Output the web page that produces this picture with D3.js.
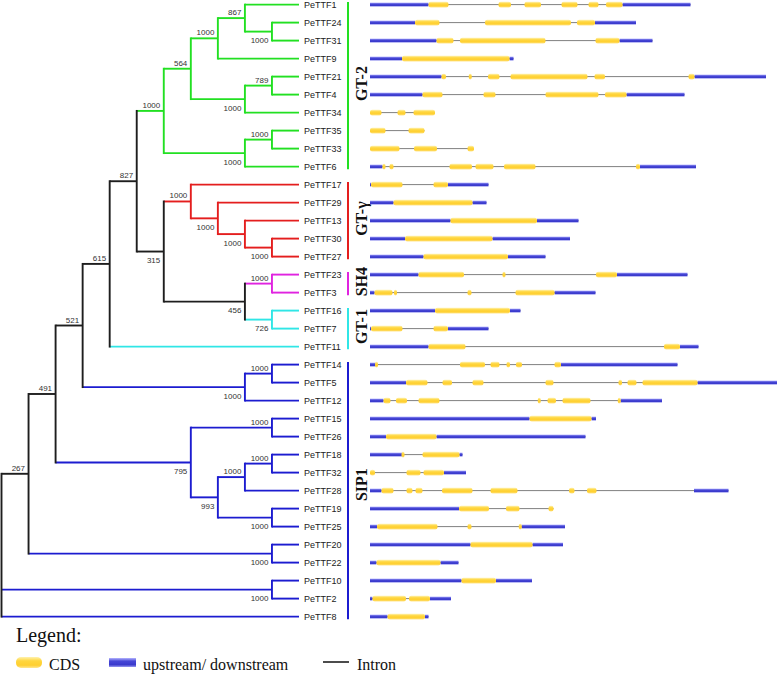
<!DOCTYPE html>
<html><head><meta charset="utf-8">
<script src="https://cdn.jsdelivr.net/npm/d3@7"></script>
<style>body{margin:0;background:#fff}svg{display:block}</style>
</head><body>
<svg id="chart" width="778" height="674"></svg>
<script>
// ---------------- DATA ----------------
// Tree topology with bootstrap values (Newick pieces)
const cladeGT2 = "((((PeTTF1,(PeTTF24,PeTTF31)1000)867,PeTTF9)1000,((PeTTF21,PeTTF4)789,PeTTF34)1000)564,((PeTTF35,PeTTF33)1000,PeTTF6)1000)1000";
const cladeGTg = "(PeTTF17,(PeTTF29,(PeTTF13,(PeTTF30,PeTTF27)1000)1000)1000)1000";
const clade456 = "((PeTTF23,PeTTF3)1000,(PeTTF16,PeTTF7)726)456";
const cladeSIPa = "((PeTTF14,PeTTF5)1000,PeTTF12)1000";
const cladeSIPb = "((PeTTF15,PeTTF26)1000,(((PeTTF18,PeTTF32)1000,PeTTF28)1000,(PeTTF19,PeTTF25)1000)993)795";
const newick = "((((((" + cladeGT2 + ",(" + cladeGTg + "," + clade456 + ")315)827,PeTTF11)615," +
  cladeSIPa + ")521," + cladeSIPb + ")491,(PeTTF20,PeTTF22)1000)267,(PeTTF10,PeTTF2)1000,PeTTF8);";

const groupNames = ["GT-2", "GT-γ", "SH4", "GT-1", "SIP1"];
const groupMembers = [
  ["PeTTF1","PeTTF24","PeTTF31","PeTTF9","PeTTF21","PeTTF4","PeTTF34","PeTTF35","PeTTF33","PeTTF6"],
  ["PeTTF17","PeTTF29","PeTTF13","PeTTF30","PeTTF27"],
  ["PeTTF23","PeTTF3"],
  ["PeTTF16","PeTTF7","PeTTF11"],
  ["PeTTF14","PeTTF5","PeTTF12","PeTTF15","PeTTF26","PeTTF18","PeTTF32","PeTTF28","PeTTF19","PeTTF25","PeTTF20","PeTTF22","PeTTF10","PeTTF2","PeTTF8"]
];
const groupColors = ["#22e022", "#e41e1e", "#e024e0", "#30e6e6", "#1c1cd0"];

// Gene structures (bp from gene start)
const geneUTR = {
  PeTTF1: [[0,1170],[5050,6410]], PeTTF24: [[0,900],[4500,5320]], PeTTF31: [[0,1330],[4990,5650]],
  PeTTF9: [[0,640],[2790,2870]], PeTTF21: [[0,1430],[6490,7920]], PeTTF4: [[0,1050],[5130,6290]],
  PeTTF34: [], PeTTF35: [], PeTTF33: [], PeTTF6: [[0,250],[5400,6520]],
  PeTTF17: [[0,20],[1560,2370]], PeTTF29: [[0,470],[2050,2330]], PeTTF13: [[0,1610],[3340,4170]],
  PeTTF30: [[0,700],[2450,4000]], PeTTF27: [[0,1070],[2760,3510]], PeTTF23: [[0,970],[4940,6350]],
  PeTTF3: [[0,90],[3690,4510]], PeTTF16: [[0,1300],[2800,3010]], PeTTF7: [[0,20],[1560,2370]],
  PeTTF11: [[0,1170],[6200,6570]], PeTTF14: [[0,110],[3820,6150]], PeTTF5: [[0,720],[6550,8140]],
  PeTTF12: [[0,270],[5010,5840]], PeTTF15: [[0,3190],[4430,4520]], PeTTF26: [[0,320],[1330,4310]],
  PeTTF18: [[0,650],[1790,1850]], PeTTF32: [[1480,1920]], PeTTF28: [[0,230],[6480,7170]],
  PeTTF19: [[0,1780]], PeTTF25: [[0,140],[3030,3900]], PeTTF20: [[0,2010],[3250,3860]],
  PeTTF22: [[0,130],[1410,1770]], PeTTF10: [[0,1830],[2520,3240]], PeTTF2: [[0,50],[1200,1620]],
  PeTTF8: [[0,350],[1100,1170]]
};
const geneCDS = {
  PeTTF1: [[1170,1570],[2570,2820],[3090,3420],[3830,4150],[4370,4570],[4720,5050]],
  PeTTF24: [[900,1390],[2300,4020],[4140,4500]],
  PeTTF31: [[1330,1670],[1800,3510],[4510,4990]],
  PeTTF9: [[640,2790]],
  PeTTF21: [[1430,1520],[1990,2020],[2360,2590],[2810,4350],[4490,4700],[6370,6490]],
  PeTTF4: [[1050,1450],[2270,2510],[3510,4570],[4700,5130]],
  PeTTF34: [[0,230],[550,710],[870,1300]],
  PeTTF35: [[0,310],[770,1090]],
  PeTTF33: [[0,590],[880,1340],[1950,2080]],
  PeTTF6: [[250,310],[390,470],[1590,2040],[2110,2470],[2680,3310],[5320,5400]],
  PeTTF17: [[20,650],[1270,1560]],
  PeTTF29: [[470,2050]],
  PeTTF13: [[1610,3340]],
  PeTTF30: [[700,2450]],
  PeTTF27: [[1070,2760]],
  PeTTF23: [[970,1880],[2650,2710],[4520,4940]],
  PeTTF3: [[90,450],[500,520],[1950,2030],[2910,3690]],
  PeTTF16: [[1300,2800]],
  PeTTF7: [[20,650],[1270,1560]],
  PeTTF11: [[1170,1910],[5880,6200]],
  PeTTF14: [[110,150],[1800,2300],[2410,2590],[2730,2800],[2920,3040],[3690,3820]],
  PeTTF5: [[720,1150],[1450,1640],[2050,2270],[3510,3670],[4970,5040],[5150,5330],[5450,6550]],
  PeTTF12: [[270,410],[520,740],[970,1390],[3360,3410],[3550,3720],[3850,4410],[4960,5010]],
  PeTTF15: [[3190,4430]],
  PeTTF26: [[320,1330]],
  PeTTF18: [[650,670],[1050,1790]],
  PeTTF32: [[0,100],[730,1010],[1070,1480]],
  PeTTF28: [[230,470],[730,850],[910,1050],[1440,2050],[2410,2950],[3980,4090],[4340,4530]],
  PeTTF19: [[1780,2380],[2720,2990],[3570,3670]],
  PeTTF25: [[140,1350],[1950,2030],[2980,3030]],
  PeTTF20: [[2010,3250]],
  PeTTF22: [[130,1410]],
  PeTTF10: [[1830,2520]],
  PeTTF2: [[50,720],[780,1200]],
  PeTTF8: [[350,1100]]
};
const legendItems = ["CDS", "upstream/ downstream", "Intron"];

// ---------------- PARSE ----------------
function parseNewick(s) {
  let i = 0;
  function node() {
    const n = {};
    if (s[i] === '(') {
      i++; n.children = [];
      n.children.push(node());
      while (s[i] === ',') { i++; n.children.push(node()); }
      i++; // ')'
    }
    let tok = '';
    while (i < s.length && !',();'.includes(s[i])) tok += s[i++];
    if (n.children) n.support = tok ? tok : null; else n.name = tok;
    return n;
  }
  return node();
}

// ---------------- LAYOUT ----------------
const svg = d3.select("#chart");
const defs = svg.append("defs");
function grad(id, stops) {
  const g = defs.append("linearGradient").attr("id", id).attr("x1", 0).attr("y1", 0).attr("x2", 0).attr("y2", 1);
  stops.forEach(([o, c]) => g.append("stop").attr("offset", o).attr("stop-color", c));
}
grad("gBlue", [[0, "#b4b4ff"], [0.35, "#4646d6"], [0.75, "#3a3acc"], [1, "#9a9af0"]]);
grad("gYel", [[0, "#fff2b0"], [0.35, "#ffd63e"], [0.75, "#ffcf30"], [1, "#ffe690"]]);

const root = d3.hierarchy(parseNewick(newick));
d3.cluster().size([630, 297.5]).separation(() => 1)(root);
const vy = d => d.x - 4.4;   // vertical position
const hx = d => d.y + 1.5;   // horizontal position

const leafGroup = {};
groupMembers.forEach((m, gi) => m.forEach(n => leafGroup[n] = gi));
root.eachAfter(n => {
  if (!n.children) n.grp = leafGroup[n.data.name];
  else {
    const gs = new Set(n.children.map(c => c.grp));
    n.grp = (gs.size === 1 && !gs.has(-1)) ? [...gs][0] : -1;
  }
  n.color = n.grp >= 0 ? groupColors[n.grp] : "#1e1e1e";
});

const tree = svg.append("g");
const lw = 1.9;
// horizontal branches
tree.selectAll("path.h").data(root.descendants().filter(d => d.parent)).join("path")
  .attr("class", "h")
  .attr("d", d => `M${hx(d.parent)},${vy(d)}H${hx(d)}`)
  .attr("stroke", d => d.color).attr("stroke-width", lw).attr("fill", "none");
// vertical connectors
tree.selectAll("path.v").data(root.descendants().filter(d => d.children)).join("path")
  .attr("class", "v")
  .attr("d", d => `M${hx(d)},${vy(d.children[0]) - lw / 2}V${vy(d.children[d.children.length - 1]) + lw / 2}`)
  .attr("stroke", d => d.color).attr("stroke-width", lw).attr("fill", "none");

// bootstrap labels
tree.selectAll("text.bs").data(root.descendants().filter(d => d.children && d.parent && d.data.support)).join("text")
  .attr("class", "bs")
  .attr("x", d => hx(d) - 3.5)
  .attr("y", d => d.parent.children[0] === d ? vy(d) - 3 : vy(d) + 11.5)
  .attr("text-anchor", "end")
  .attr("font-family", "Liberation Sans, Arial, sans-serif")
  .attr("font-size", 8).attr("fill", "#333")
  .text(d => d.data.support);

const leaves = root.leaves();
tree.selectAll("text.leaf").data(leaves).join("text")
  .attr("class", "leaf")
  .attr("x", 304).attr("y", d => vy(d) + 3.2)
  .attr("font-family", "Liberation Sans, Arial, sans-serif")
  .attr("font-size", 9).attr("fill", "#222")
  .text(d => d.data.name);

// clade brackets & labels
const leafIndex = {};
leaves.forEach(l => leafIndex[l.data.name] = l);
groupNames.forEach((g, gi) => {
  const ys = groupMembers[gi].map(n => vy(leafIndex[n]));
  const y0 = d3.min(ys), y1 = d3.max(ys);
  svg.append("line").attr("x1", 348).attr("x2", 348).attr("y1", y0 - 2.6).attr("y2", y1 + 2.6)
    .attr("stroke", groupColors[gi]).attr("stroke-width", 2);
  const cy = (y0 + y1) / 2 + (g === "SIP1" ? -6 : -2);
  svg.append("text").attr("transform", `translate(366.5,${cy}) rotate(-90)`)
    .attr("text-anchor", "middle")
    .attr("font-family", "Liberation Serif, Times New Roman, serif")
    .attr("font-weight", "bold").attr("font-size", 16).attr("fill", "#111")
    .text(g);
});

// ---------------- GENE STRUCTURES ----------------
const gx = d3.scaleLinear().domain([0, 8160]).range([370, 778]);
const gs = svg.append("g");
leaves.forEach(l => {
  const name = l.data.name, y = vy(l);
  const all = geneUTR[name].concat(geneCDS[name]);
  const s = d3.min(all, d => d[0]), e = d3.max(all, d => d[1]);
  gs.append("line").attr("x1", gx(s)).attr("x2", gx(e)).attr("y1", y).attr("y2", y)
    .attr("stroke", "#808080").attr("stroke-width", 1);
  gs.selectAll(null).data(geneUTR[name]).join("rect")
    .attr("x", d => gx(d[0])).attr("width", d => gx(d[1]) - gx(d[0]))
    .attr("y", y - 2).attr("height", 4).attr("fill", "url(#gBlue)");
  gs.selectAll(null).data(geneCDS[name]).join("rect")
    .attr("x", d => { const w = gx(d[1]) - gx(d[0]); return w < 3 ? (gx(d[0]) + gx(d[1])) / 2 - 1.5 : gx(d[0]); })
    .attr("width", d => Math.max(3, gx(d[1]) - gx(d[0])))
    .attr("y", y - 2.8).attr("height", 5.6).attr("rx", 2.2).attr("ry", 2.2)
    .attr("fill", "url(#gYel)");
});

// ---------------- LEGEND ----------------
const lg = svg.append("g").attr("font-family", "Liberation Serif, Times New Roman, serif").attr("fill", "#111");
lg.append("text").attr("x", 16).attr("y", 642).attr("font-size", 20).text("Legend:");
lg.append("rect").attr("x", 16).attr("y", 657).attr("width", 26).attr("height", 11).attr("rx", 5)
  .attr("fill", "url(#gYel)");
lg.append("text").attr("x", 49).attr("y", 670).attr("font-size", 16).text(legendItems[0]);
lg.append("rect").attr("x", 109).attr("y", 658).attr("width", 27).attr("height", 9)
  .attr("fill", "url(#gBlue)");
lg.append("text").attr("x", 143).attr("y", 670).attr("font-size", 16).text(legendItems[1]);
lg.append("line").attr("x1", 323).attr("x2", 349).attr("y1", 662).attr("y2", 662)
  .attr("stroke", "#111").attr("stroke-width", 1.5);
lg.append("text").attr("x", 357).attr("y", 670).attr("font-size", 16).text(legendItems[2]);
</script>
</body></html>
